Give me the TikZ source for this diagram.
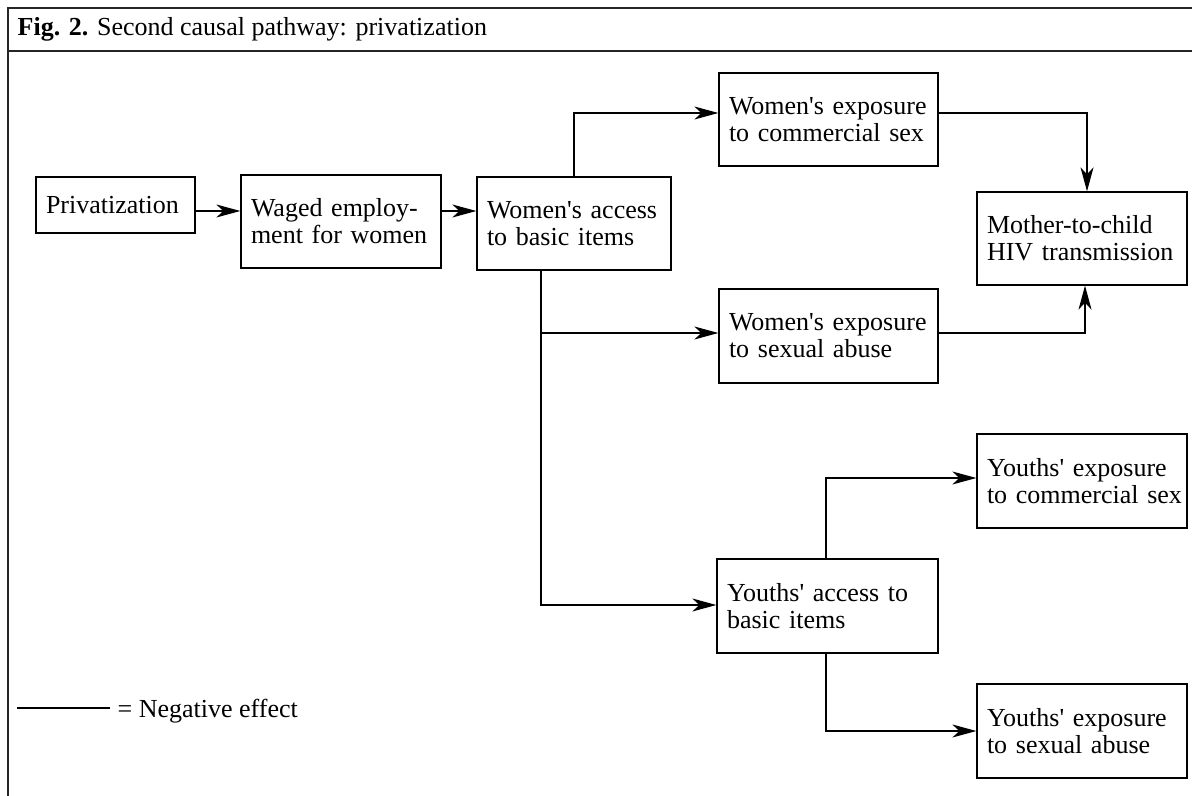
\documentclass[tikz,border=0pt]{standalone}
\usepackage{fontspec}
\setmainfont{Liberation Serif}
\usetikzlibrary{arrows.meta}
\newcommand{\ap}{\textquotesingle}
\newcommand{\bxline}[1]{\mbox{#1}}
\begin{document}
\begin{tikzpicture}[x=0.5pt,y=-0.5pt,
  line width=0.65pt,
  txt/.style={font=\fontsize{13}{13.6}\selectfont},
  box/.style={draw, txt, rectangle, inner xsep=5pt, inner ysep=0pt,
    align=left, anchor=center},
  arr/.style={-{Stealth[length=12pt,width=6.5pt,inset=3.5pt]}},
  frame/.style={draw=black!85, line width=0.8pt}]
\useasboundingbox (0,0) rectangle (1192,796);

% outer frame and caption bar
\draw[frame] (8,796) -- (8,8) -- (1192,8);
\draw[frame] (8,51) -- (1192,51);
\node[txt, anchor=base west, inner sep=0pt] (title) at (17,36)
  {\textbf{Fig. 2.} Second causal pathway: privatization};

% boxes
\node[box, minimum width=79.5pt, minimum height=28pt, text width=69.5pt] (priv) at (115.5,205)
  {\bxline{Privatization}};
\node[box, minimum width=100pt, minimum height=46.5pt, text width=90pt] (waged) at (341,221.5)
  {\bxline{Waged employ-}\\\bxline{ment for women}};
\node[box, minimum width=97pt, minimum height=46.5pt, text width=87pt] (wacc) at (574,223.5)
  {\bxline{Women\ap s access}\\\bxline{to basic items}};
\node[box, minimum width=109.5pt, minimum height=46.5pt, text width=99.5pt] (wcom) at (828.5,119.5)
  {\bxline{Women\ap s exposure}\\\bxline{to commercial sex}};
\node[box, minimum width=105pt, minimum height=46.5pt, text width=95pt] (mtc) at (1082,238.5)
  {\bxline{Mother-to-child}\\\bxline{HIV transmission}};
\node[box, minimum width=109.5pt, minimum height=47pt, text width=99.5pt] (wabu) at (828.5,336)
  {\bxline{Women\ap s exposure}\\\bxline{to sexual abuse}};
\node[box, minimum width=105pt, minimum height=47pt, text width=95pt] (ycom) at (1082,481)
  {\bxline{Youths\ap\ exposure}\\\bxline{to commercial sex}};
\node[box, minimum width=110.5pt, minimum height=47pt, text width=100.5pt] (yacc) at (827.5,606)
  {\bxline{Youths\ap\ access to}\\\bxline{basic items}};
\node[box, minimum width=105pt, minimum height=47pt, text width=95pt] (yabu) at (1082,731)
  {\bxline{Youths\ap\ exposure}\\\bxline{to sexual abuse}};

% connectors
\draw[arr] (priv.east |- 0,211) -- (waged.west |- 0,211);
\draw[arr] (waged.east |- 0,211) -- (wacc.west |- 0,211);
\draw[arr] (wacc.north) -- (574,113) -- (wcom.west |- 0,113);
\coordinate (split) at (541,333);
\draw[arr] (wacc.south -| 541,0) -- (split) -- (wabu.west |- split);
\draw[arr] (split) -- (541,605) -- (yacc.west |- 0,605);
\draw[arr] (wcom.east |- 0,113) -- (1087,113) -- (mtc.north -| 1087,0);
\draw[arr] (wabu.east |- 0,333) -- (1085,333) -- (mtc.south -| 1085,0);
\draw[arr] (yacc.north -| 826,0) -- (826,478) -- (ycom.west |- 0,478);
\draw[arr] (yacc.south -| 826,0) -- (826,731) -- (yabu.west |- 0,731);

% legend
\coordinate (legA) at (17,708);
\coordinate (legB) at (110,708);
\draw (legA) -- (legB);
\node[txt, anchor=base west, inner sep=0pt] (legend) at (117,717) {= Negative effect};
\end{tikzpicture}
\end{document}
